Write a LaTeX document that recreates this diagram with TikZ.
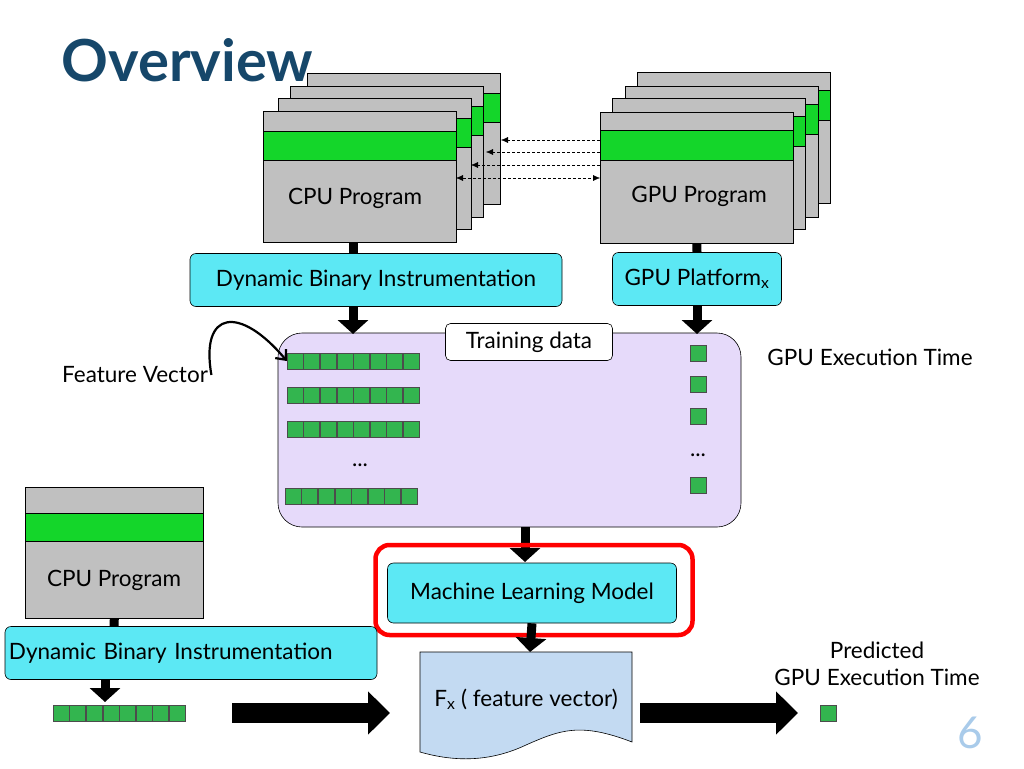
\documentclass[tikz,border=0pt]{standalone}
\usepackage{fontspec}
\setmainfont{Lato}
\usetikzlibrary{arrows.meta}
\definecolor{progGray}{HTML}{C0C0C0}
\definecolor{progGreen}{HTML}{14D62A}
\definecolor{cellGreen}{HTML}{33B54F}
\definecolor{boxCyan}{HTML}{5CE8F4}
\definecolor{trainLilac}{HTML}{E6DAFA}
\definecolor{docBlue}{HTML}{C3DAF2}
\definecolor{titleBlue}{HTML}{16476A}
\definecolor{pageBlue}{HTML}{A9CBEA}
\tikzset{
    normal/.style={draw, semithick},
    prog/.style={style=normal, fill=progGray, minimum width=193pt, minimum height=131pt, anchor=north west, inner sep=0},
    band/.style={fill=progGreen, draw, semithick},
    tool/.style={style=normal, fill=boxCyan, rounded corners=6pt, minimum height=53pt, font=\fontsize{22.5}{27}\selectfont},
    cell/.style={draw=black!70, fill=cellGreen, thin, minimum size=16pt, inner sep=0},
    push/.style={line width=9pt, -{Triangle[length=14pt,width=30pt]}},
    big/.style={line width=20pt, -{Triangle[length=22pt,width=42pt]}},
    link/.style={densely dashed, thin, -{Latex[length=7pt,width=6pt]}},
    txt/.style={font=\fontsize{22.5}{27}\selectfont, align=center}
}
% one row of feature cells
\newcommand{\cellrow}[3]{%
  \foreach \k in {0,...,7} \node[cell] (#3\k) at ({#1+8+\k*16.6},#2) {};}
\begin{document}
\begin{tikzpicture}[x=1pt, y=-1pt]
  \useasboundingbox (0,0) rectangle (1024,768);
  \node[font=\fontsize{58}{62}\bfseries\selectfont, text=titleBlue, anchor=west] (title) at (58,60) {Overview};

  % CPU program stack
  \foreach \i/\dx/\dy in {3/44/-38, 2/27/-25, 1/15/-13} {
    \node[prog] (cpu\i) at (263+\dx,111+\dy) {};
    \draw[band] (263+\dx,131+\dy) rectangle (456+\dx,160+\dy);
  }
  \node[prog] (cpu) at (263,111) {};
  \draw[band] (263,131) rectangle (456,160);
  \node[txt] (cpulbl) at (355,198) {CPU Program};

  % GPU program stack
  \foreach \i/\dx/\dy in {3/37/-40, 2/25/-26, 1/12/-14} {
    \node[prog] (gpu\i) at (600+\dx,112+\dy) {};
    \draw[band] (600+\dx,130+\dy) rectangle (793+\dx,160+\dy);
  }
  \node[prog] (gpu) at (600,112) {};
  \draw[band] (600,130) rectangle (793,160);
  \node[txt] (gpulbl) at (699,196) {GPU Program};

  \coordinate (g1) at (600,140); \coordinate (c1) at (501,140);
  \coordinate (g2) at (600,152); \coordinate (c2) at (486,152);
  \coordinate (g3) at (600,165); \coordinate (c3) at (471,165);
  \coordinate (g4) at (600,178); \coordinate (c4) at (456,178);
  \draw[link] (g1) -- (c1);
  \draw[link] (g2) -- (c2);
  \draw[link] (g3) -- (c3);
  \draw[link, {Latex[length=7pt,width=6pt]}-{Latex[length=7pt,width=6pt]}] (c4) -- (g4);

  % instrumentation
  \node[tool, minimum width=372pt] (dbi) at (376,280) {Dynamic Binary Instrumentation};
  \node[tool, minimum width=169pt] (plat) at (697,279) {GPU Platform\textsubscript{x}};
  \draw[line width=9pt] (cpu.south -| 353,0) -- (dbi.north -| 353,0);
  \draw[line width=9pt] (gpu.south) -- (plat.north);

  % training data
  \node[style=normal, fill=trainLilac, rounded corners=24pt, minimum width=463pt, minimum height=194pt] (train) at (509.5,430) {};
  \node[style=normal, fill=white, rounded corners=5pt, minimum width=167pt, minimum height=37pt, txt] (trainlbl) at (529,342) {Training data};
  \draw[push] (353,307) -- (353,334);
  \draw[push] (697,305) -- (697,334);
  \cellrow{287}{361}{ra}
  \cellrow{287}{395}{rb}
  \cellrow{287}{429}{rc}
  \cellrow{285}{496}{rd}
  \node[txt] (rdots) at (360,465) {...};
  \foreach \y/\n in {353/1,384/2,416/3,485/4} \node[cell] (t\n) at (698,\y) {};
  \node[txt] (tdots) at (698,455) {...};
  \node[txt] (gpulabel) at (870,357) {GPU Execution Time};
  \node[txt] (fvlabel) at (135,375) {Feature Vector};
  \draw[line width=2.2pt, -{Straight Barb[length=8pt,width=14pt]}] (fvlabel.east) .. controls (200,310) and (240,305) .. (ra0.west);

  % model
  \draw[push] (train.south -| 525,0) -- (525,562);
  \node[draw=red, line width=4.5pt, rounded corners=14pt, minimum width=317pt, minimum height=90pt] (focus) at (534,590) {};
  \node[tool, minimum width=289pt, minimum height=60pt] (ml) at (532,593) {Machine Learning Model};

  % predictor document
  \coordinate (dtl) at (420,652);
  \path[style=normal, fill=docBlue] (dtl) -- (632,652) -- (632,742) .. controls (580,722) and (560,730) .. (526,745) .. controls (490,762) and (455,762) .. (420,752) -- cycle;
  \node[txt] (doc) at (526,699) {F\textsubscript{x} ( feature vector)};
  \draw[push] (ml.south) -- (530,652);

  % new program
  \node[prog, minimum width=178pt] (cpun) at (25,487) {};
  \draw[band] (25,513) rectangle (203,541);
  \node[txt] (cpunlbl) at (114,580) {CPU Program};
  \node[tool, minimum width=372pt, text width=364pt, inner xsep=4pt, align=left] (dbin) at (191,653) {Dynamic Binary Instrumentation};
  \draw[line width=9pt] (cpun.south) -- (114,626);
  \draw[push] (105,680) -- (105,702);
  \cellrow{53}{713}{rn}
  \coordinate (a1) at (232,713); \coordinate (a2) at (390,713);
  \draw[big] (a1) -- (a2);
  \coordinate (b1) at (640,713); \coordinate (b2) at (798,713);
  \draw[big] (b1) -- (b2);
  \node[cell] (pred) at (828,713) {};
  \node[txt] (predlbl) at (877,664) {Predicted\\GPU Execution Time};
  \node[font=\fontsize{44}{48}\selectfont, text=pageBlue] (page) at (970,733) {6};
\end{tikzpicture}
\end{document}
